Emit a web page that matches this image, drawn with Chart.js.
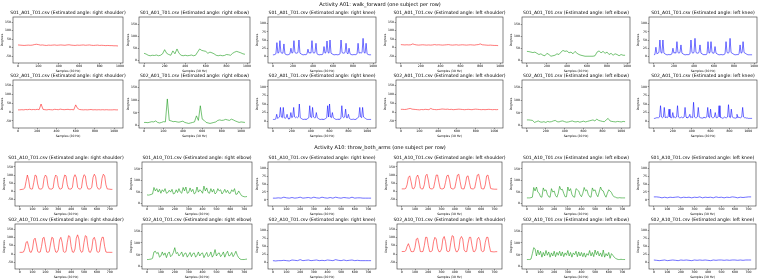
<!DOCTYPE html>
<html><head><meta charset="utf-8">
<script src="https://cdn.jsdelivr.net/npm/chart.js@4.4.1/dist/chart.umd.min.js"></script>
<style>
html,body{margin:0;padding:0;background:#fff;}
#fig{position:relative;width:760px;height:280px;overflow:hidden;background:#fff;}
canvas{position:absolute;}
</style></head><body><div id="fig"></div>
<script>
// ---------------- DATA ----------------
const sectionTitles = ["Activity A01: walk_forward (one subject per row)", "Activity A10: throw_both_arms (one subject per row)"];
const fileNames = ["S01_A01_T01.csv", "S02_A01_T01.csv", "S01_A10_T01.csv", "S02_A10_T01.csv"];
const jointNames = ["right shoulder", "right elbow", "right knee", "left shoulder", "left elbow", "left knee"];
const xAxisLabel = "Samples (30 Hz)";
const yAxisLabel = "Degrees";
const shoulderTicks = [-50, 0, 50, 100, 150];
const elbowTicks = [0, 50, 100, 150];
const kneeTicks = [0, 25, 50, 75, 100];
const xTicksA01 = [0, 200, 400, 600, 800, 1000];
const xTicksA10 = [0, 100, 200, 300, 400, 500, 600, 700];

// A01, subject S01 (shoulder/elbow every 20 samples, knee every 10 samples)
const A01_S01_rShoulder = [16,15,14,13,14,15,14,15,18,20,18,15,16,14,13,15,14,15,16,14,15,16,15,14,16,17,15,14,13,15,14,15,16,14,15,16,14,13,14,15,13,14,13,12,13,12,12,11,11,10];
const A01_S01_rElbow = [30,27,22,20,22,21,23,20,22,28,45,30,25,22,40,28,48,30,22,20,22,20,21,23,20,22,35,48,42,40,38,30,35,32,28,22,20,22,20,21,25,24,22,30,35,38,35,32,28,26];
const A01_S01_rKnee = [5,5,6,8,42,10,12,48,12,10,10,38,8,6,5,5,6,8,25,10,12,48,12,10,10,12,50,10,8,6,5,5,6,5,8,22,10,12,10,48,12,10,12,40,8,6,5,5,6,5,8,30,10,12,47,12,10,50,10,8,6,5,5,6,5,5,6,8,50,12,10,10,12,40,10,8,25,8,6,5,5,6,5,6,8,40,10,12,10,12,55,12,10,40,8,6,5,5,5];
const A01_S01_lShoulder = [18,17,16,17,16,17,22,18,16,15,16,17,16,15,16,15,16,18,16,17,16,15,16,17,18,16,15,16,17,15,16,17,16,15,16,17,16,15,17,18,22,17,16,15,14,15,14,13,13,12];
const A01_S01_lElbow = [38,37,35,33,35,30,25,28,22,20,30,25,18,20,22,28,25,35,42,38,40,32,35,28,38,30,25,22,20,18,18,18,18,18,20,35,40,32,38,30,35,25,30,22,28,25,20,25,22,22];
const A01_S01_lKnee = [5,6,28,8,10,12,50,12,10,50,10,8,6,5,5,6,5,6,8,25,10,12,10,45,12,10,12,35,10,8,6,5,5,6,5,6,8,50,12,10,12,55,12,10,10,12,35,10,8,6,5,6,5,8,45,10,12,45,12,10,10,30,10,8,6,5,5,6,5,5,6,8,45,12,10,12,55,12,10,8,6,5,5,6,5,8,35,10,12,45,12,10,8,6,5,5,5,5,5];

// A01, subject S02
const A01_S02_rShoulder = [12,12,13,12,14,13,15,13,14,13,15,13,45,15,13,12,14,13,12,15,14,13,16,14,13,14,15,13,14,12,40,20,14,13,12,13,12,13,14,12,13,12,13,12,13,12,13,12,12,12,13,12,12];
const A01_S02_rElbow = [12,12,11,13,15,14,18,12,10,12,15,14,105,20,18,15,16,14,13,15,17,12,10,8,10,12,14,38,20,78,25,20,12,10,8,10,12,14,20,22,20,21,24,22,20,25,22,18,15,12,14,13,12];
const A01_S02_rKnee = [5,5,5,6,20,8,10,12,40,12,10,40,10,8,10,20,8,6,8,25,10,12,40,12,10,12,10,12,50,10,8,6,5,5,6,5,6,8,10,45,12,10,40,12,10,10,25,10,8,6,5,5,6,5,5,6,8,10,45,12,50,12,10,25,10,8,6,5,5,6,5,6,8,45,12,10,12,35,10,10,20,8,6,5,5,6,5,5,6,8,10,12,40,12,10,40,12,10,8,6,5,5,5,5,5];
const A01_S02_lShoulder = [15,15,14,15,18,20,16,15,14,13,12,14,13,15,14,13,20,15,14,13,14,15,17,16,15,16,14,15,13,14,15,16,15,14,13,14,15,14,13,15,16,15,14,13,14,13,14,15,14,13,14,13,14];
const A01_S02_lElbow = [22,22,21,20,12,15,18,14,13,15,12,16,14,15,18,20,15,14,17,18,15,13,14,16,18,15,14,16,13,15,17,14,16,18,20,22,18,25,20,18,16,15,22,28,18,16,15,14,16,15,14,16,15];
const A01_S02_lKnee = [8,8,9,10,10,10,12,45,12,10,12,40,10,12,10,12,35,12,10,10,25,10,12,10,12,45,12,10,10,12,10,10,12,40,12,10,10,12,20,10,12,10,55,12,10,10,12,40,12,10,10,8,10,12,10,10,12,40,12,10,35,12,10,10,12,25,10,10,12,45,12,10,10,8,10,12,10,10,12,48,12,10,35,12,10,10,8,10,20,10,12,10,10,12,40,12,10,10,9,9,8,8,8,8,8];

// A10, subject S01 (shoulder/elbow every 10 samples, knee every 20 samples)
const A10_S01_rShoulder = [10,11,12,14,20,60,100,70,18,14,15,55,100,95,45,16,14,14,25,80,100,90,35,15,14,14,20,75,100,92,35,15,14,20,70,100,95,40,15,14,14,25,85,102,85,25,15,14,20,75,102,95,40,15,14,15,25,85,105,90,30,15,14,20,80,105,95,40,15,14,13,12,12];
const A10_S01_rElbow = [38,37,38,40,42,70,55,65,50,62,45,60,52,65,45,48,58,50,62,42,45,60,48,65,50,45,70,55,72,45,48,68,52,62,42,47,72,50,60,55,45,76,55,68,48,45,65,50,62,42,48,65,55,60,42,50,62,48,58,45,45,60,52,65,40,42,55,45,35,32,30,30,31];
const A10_S01_rKnee = [5,5,6,5,8,6,5,7,5,6,8,5,6,7,5,8,6,5,8,6,5,7,5,8,6,5,7,6,5,8,5,6,6,5,5,5,5];
const A10_S01_lShoulder = [15,15,15,18,40,85,95,60,18,15,30,85,100,75,20,15,15,40,95,105,70,20,15,15,20,60,100,100,55,18,15,15,20,55,95,100,70,20,15,15,20,60,100,105,60,18,15,15,45,90,95,55,18,15,15,20,60,100,105,65,18,15,15,40,95,100,60,18,15,14,13,13,13];
const A10_S01_lElbow = [25,25,25,26,28,70,55,72,50,45,30,28,68,55,60,40,30,28,65,50,55,35,28,45,75,60,62,45,30,30,72,55,65,40,30,28,65,60,55,38,30,45,70,55,60,40,30,28,68,55,60,40,30,50,72,58,55,38,28,45,60,55,48,35,30,28,25,25,26,25,25,25,25];
const A10_S01_lKnee = [9,9,8,6,8,6,8,7,8,9,6,8,7,8,6,8,7,9,6,8,7,8,6,9,7,8,6,8,7,9,8,6,8,7,8,9,9];

// A10, subject S02
const A10_S02_rShoulder = [10,10,10,12,30,70,75,45,12,10,30,85,95,60,15,10,12,45,95,100,55,12,10,15,60,100,95,40,12,10,25,85,100,70,15,10,15,70,110,105,45,12,10,30,95,115,90,25,10,15,70,110,105,45,12,10,30,90,100,75,15,10,15,70,100,100,45,12,10,10,10,10,10];
const A10_S02_rElbow = [30,30,31,32,35,62,65,55,60,40,45,62,48,58,38,55,62,42,48,60,80,55,60,45,52,62,42,55,58,40,50,60,42,55,58,40,48,62,45,55,58,38,50,60,42,48,62,40,50,72,45,55,58,42,50,62,40,55,65,45,48,60,42,52,65,48,38,32,30,30,30,31,32];
const A10_S02_rKnee = [6,5,6,6,7,6,5,8,7,6,9,6,7,8,6,7,8,6,7,6,8,7,6,9,7,6,8,6,7,8,6,7,6,6,6,6,6];
const A10_S02_lShoulder = [15,15,15,20,45,62,40,15,14,15,40,90,95,60,15,14,15,50,100,100,50,15,14,20,75,100,90,35,14,14,30,90,105,75,18,14,18,70,110,105,40,14,14,30,90,105,90,25,14,15,65,100,100,50,15,14,30,90,100,80,20,14,18,70,100,100,50,15,14,13,13,14,14];
const A10_S02_lElbow = [30,30,30,32,55,80,75,45,70,50,65,40,60,45,68,48,62,40,58,45,65,42,60,48,65,45,62,42,58,48,68,45,60,40,58,50,65,42,62,45,60,42,58,40,55,48,68,45,60,42,70,50,65,45,58,42,70,40,55,45,60,35,55,48,40,35,32,30,30,31,30,30,30];
const A10_S02_lKnee = [8,7,6,7,8,6,7,8,7,6,8,7,8,7,6,8,7,8,7,8,7,6,8,7,8,8,7,8,7,8,8,7,8,7,8,8,8];

// sampling step (in samples) of each stored series, per joint column
const stepsA01 = [20, 20, 10, 20, 20, 10];
const stepsA10 = [10, 10, 20, 10, 10, 20];

// ---------------- STYLE / LAYOUT ----------------
const FONT = '"DejaVu Sans", sans-serif';
const jointStyle = {
  shoulder: {ticks: shoulderTicks, min: -90, max: 180, color: '#ff2020'},
  elbow:    {ticks: elbowTicks,    min: -10, max: 180, color: '#1a9a1a'},
  knee:     {ticks: kneeTicks,     min: -20, max: 120, color: '#1010ff'}
};
const jointKinds = ['shoulder', 'elbow', 'knee', 'shoulder', 'elbow', 'knee'];
const rows = [
  {file: fileNames[0], series: [A01_S01_rShoulder, A01_S01_rElbow, A01_S01_rKnee, A01_S01_lShoulder, A01_S01_lElbow, A01_S01_lKnee], steps: stepsA01, xTicks: xTicksA01, sec: 0},
  {file: fileNames[1], series: [A01_S02_rShoulder, A01_S02_rElbow, A01_S02_rKnee, A01_S02_lShoulder, A01_S02_lElbow, A01_S02_lKnee], steps: stepsA01, xTicks: xTicksA01, sec: 0},
  {file: fileNames[2], series: [A10_S01_rShoulder, A10_S01_rElbow, A10_S01_rKnee, A10_S01_lShoulder, A10_S01_lElbow, A10_S01_lKnee], steps: stepsA10, xTicks: xTicksA10, sec: 1},
  {file: fileNames[3], series: [A10_S02_rShoulder, A10_S02_rElbow, A10_S02_rKnee, A10_S02_lShoulder, A10_S02_lElbow, A10_S02_lKnee], steps: stepsA10, xTicks: xTicksA10, sec: 1}
];
const L = {
  boxL: [[13, 139, 268, 396, 522, 649], [15, 142, 268, 397, 522, 649]],
  boxR: [[123, 250, 376, 503, 630, 757], [117, 252, 376, 502, 630, 756]],
  boxT: [17, 80, 162, 224],
  boxB: [63, 128, 206, 269],
  lw: 13, th: 8, bh: 10, rw: 8,
  supY: [5, 148]
};
const TICK_SIZE = 3.1, LABEL_SIZE = 3.0, TITLE_SIZE = 4.5, SUP_SIZE = 5.0;

const fig = document.getElementById('fig');

// section (figure-level) titles
const supCanvas = document.createElement('canvas');
supCanvas.width = 760; supCanvas.height = 280;
supCanvas.style.left = '0px'; supCanvas.style.top = '0px';
fig.appendChild(supCanvas);
const sctx = supCanvas.getContext('2d');
sctx.fillStyle = '#000';
sctx.font = SUP_SIZE + 'px ' + FONT;
sctx.textAlign = 'center';
sctx.textBaseline = 'middle';
sectionTitles.forEach((t, i) => sctx.fillText(t, 380, L.supY[i]));

const framePlugin = {
  id: 'frameTitle',
  afterDatasetsDraw(chart) {
    const ca = chart.chartArea, ctx = chart.ctx;
    ctx.save();
    ctx.strokeStyle = '#333';
    ctx.lineWidth = 0.6;
    ctx.strokeRect(ca.left, ca.top, ca.right - ca.left, ca.bottom - ca.top);
    ctx.restore();
  },
  afterDraw(chart) {
    const ca = chart.chartArea, ctx = chart.ctx;
    ctx.save();
    ctx.fillStyle = '#000';
    ctx.font = TITLE_SIZE + 'px ' + FONT;
    ctx.textAlign = 'center';
    ctx.textBaseline = 'middle';
    ctx.fillText(chart.config.options.plugins.frameTitle.text, (ca.left + ca.right) / 2, ca.top - 3.8);
    ctx.restore();
  }
};

rows.forEach((row, r) => {
  row.series.forEach((vals, c) => {
    const st = jointStyle[jointKinds[c]];
    const step = row.steps[c];
    const samples = vals.map((_, i) => i * step);
    const n = samples[samples.length - 1];
    const bl = L.boxL[row.sec][c], br = L.boxR[row.sec][c];
    const bw = br - bl, bh = L.boxB[r] - L.boxT[r];
    const cv = document.createElement('canvas');
    const W = bw + L.lw + L.rw, H = bh + L.th + L.bh;
    cv.width = W; cv.height = H;
    cv.style.width = W + 'px'; cv.style.height = H + 'px';
    cv.style.left = (bl - L.lw) + 'px';
    cv.style.top = (L.boxT[r] - L.th) + 'px';
    fig.appendChild(cv);
    const tickFont = {family: FONT, size: TICK_SIZE};
    new Chart(cv.getContext('2d'), {
      type: 'line',
      data: {labels: samples, datasets: [{data: vals, borderColor: st.color, borderWidth: 0.6, pointRadius: 0, fill: false, tension: 0}]},
      options: {
        responsive: false, animation: false, devicePixelRatio: 1,
        layout: {padding: {left: 0, top: L.th, right: L.rw, bottom: 0}},
        plugins: {legend: {display: false}, tooltip: {enabled: false}, title: {display: false},
                  frameTitle: {text: row.file + ' (Estimated angle: ' + jointNames[c] + ')'}},
        scales: {
          x: {
            type: 'linear', min: -0.05 * n, max: 1.05 * n,
            afterBuildTicks: s => { s.ticks = row.xTicks.map(v => ({value: v})); },
            afterFit: s => { s.height = L.bh; },
            grid: {drawOnChartArea: false, drawTicks: true, tickLength: 1.3, color: '#333', lineWidth: 0.5},
            border: {display: false},
            ticks: {font: tickFont, color: '#000', padding: 0.5, maxRotation: 0, autoSkip: false, callback: v => String(v)},
            title: {display: true, text: xAxisLabel, font: {family: FONT, size: LABEL_SIZE}, color: '#000', padding: {top: 0, bottom: 0.3}}
          },
          y: {
            type: 'linear', min: st.min, max: st.max,
            afterBuildTicks: s => { s.ticks = st.ticks.map(v => ({value: v})); },
            afterFit: s => { s.width = L.lw; },
            grid: {drawOnChartArea: false, drawTicks: true, tickLength: 1.3, color: '#333', lineWidth: 0.5},
            border: {display: false},
            ticks: {font: tickFont, color: '#000', padding: 0.7, autoSkip: false, callback: v => String(v)},
            title: {display: true, text: yAxisLabel, font: {family: FONT, size: LABEL_SIZE}, color: '#000', padding: {top: 0.8, bottom: 0}}
          }
        }
      },
      plugins: [framePlugin]
    });
  });
});
</script>
</body></html>
